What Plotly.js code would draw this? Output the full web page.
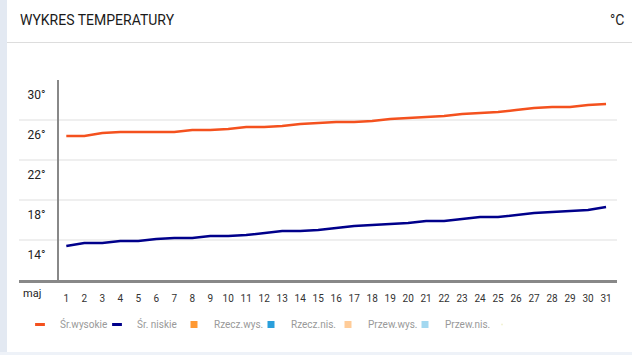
<!DOCTYPE html>
<html>
<head>
<meta charset="utf-8">
<script src="https://cdn.plot.ly/plotly-3.0.1.min.js"></script>
<style>
  html, body { margin: 0; padding: 0; background: #fff; }
  #wrap { position: relative; width: 632px; height: 355px; overflow: hidden; }
  #chart { position: absolute; left: 0; top: 0; width: 632px; height: 355px; }
  .strip-left { position: absolute; left: 0; top: 0; width: 7px; height: 355px; background: #e3e9f2; }
  .strip-bottom { position: absolute; left: 0; top: 352px; width: 632px; height: 3px; background: #eef2f8; }
  .sep { position: absolute; left: 7px; top: 42px; width: 625px; height: 1px; background: #dddddd; }
</style>
</head>
<body>
<div id="wrap">
  <div id="chart"></div>
  <div class="sep"></div>
  <div class="strip-left"></div>
  <div class="strip-bottom"></div>
</div>
<script>
// ---- data ----
const days = [1,2,3,4,5,6,7,8,9,10,11,12,13,14,15,16,17,18,19,20,21,22,23,24,25,26,27,28,29,30,31];
const avgHigh = [24.4,24.4,24.7,24.8,24.8,24.8,24.8,25.0,25.0,25.1,25.3,25.3,25.4,25.6,25.7,25.8,25.8,25.9,26.1,26.2,26.3,26.4,26.6,26.7,26.8,27.0,27.2,27.3,27.3,27.5,27.6];
const avgLow = [13.4,13.7,13.7,13.9,13.9,14.1,14.2,14.2,14.4,14.4,14.5,14.7,14.9,14.9,15.0,15.2,15.4,15.5,15.6,15.7,15.9,15.9,16.1,16.3,16.3,16.5,16.7,16.8,16.9,17.0,17.3];
const yTicks = [14,18,22,26,30];
const yTickText = ["14°","18°","22°","26°","30°"];
const monthLabel = "maj";
const legendNames = ["Śr.wysokie","Śr. niskie","Rzecz.wys.","Rzecz.nis.","Przew.wys.","Przew.nis."];
const legendColors = ["#f4511e","#00008b","#ff9933","#2a9fdb","#ffcc99","#a3d8f0"];

const FONT = 'Roboto, "Noto Sans", sans-serif';

const traces = [
  { x: days, y: avgHigh, type: 'scatter', mode: 'lines', line: { color: legendColors[0], width: 2.5 }, showlegend: false, hoverinfo: 'skip' },
  { x: days, y: avgLow, type: 'scatter', mode: 'lines', line: { color: legendColors[1], width: 2.5 }, showlegend: false, hoverinfo: 'skip' }
];
// legend-only entries
legendNames.forEach((n, i) => {
  const isLine = i < 2;
  traces.push({
    x: [null], y: [null], type: 'scatter', mode: 'markers', name: n,
    marker: isLine
      ? { symbol: 'line-ew-open', size: 7, color: legendColors[i], line: { color: legendColors[i], width: 3 } }
      : { symbol: 'square', size: 7, color: legendColors[i], line: { width: 0 } }
  });
});
// invisible spacer entry so the last legend label is not clipped
traces.push({ x: [null], y: [null], type: 'scatter', mode: 'markers', name: ' ', marker: { opacity: 0, size: 1 } });

const layout = {
  width: 632, height: 355,
  margin: { l: 19, r: 15, t: 80, b: 75 },
  paper_bgcolor: '#ffffff', plot_bgcolor: '#ffffff',
  font: { family: FONT, color: '#222' },
  title: { text: 'WYKRES TEMPERATURY', x: 20/632, xanchor: 'left', xref: 'container', y: 1 - 20/355, yanchor: 'middle', yref: 'container', font: { family: FONT, size: 14, color: '#1a1a1a' } },
  xaxis: {
    range: [-1.63, 31.61], tickmode: 'array', tickvals: days, ticktext: days.map(String),
    showgrid: false, zeroline: false, showline: true, linecolor: '#888', linewidth: 3,
    ticks: '', ticklabelstandoff: 7, tickfont: { family: FONT, size: 10, color: '#333' }, fixedrange: true
  },
  yaxis: {
    range: [10, 30], anchor: 'free', position: 39/598,
    tickmode: 'array', tickvals: yTicks, ticktext: yTickText,
    showgrid: true, gridcolor: '#efefef', gridwidth: 2, zeroline: false,
    showline: true, linecolor: '#888', linewidth: 2,
    ticks: '', ticklabelshift: 15, ticklabelstandoff: 9,
    tickfont: { family: FONT, size: 12, color: '#222' }, fixedrange: true
  },
  showlegend: true,
  legend: {
    orientation: 'h', x: 1/598, xanchor: 'left', y: -0.15, yanchor: 'top',
    entrywidth: 32, entrywidthmode: 'pixels', itemwidth: 30,
    font: { family: FONT, size: 10, color: '#999' }, bgcolor: 'rgba(0,0,0,0)'
  },
  annotations: [
    { text: monthLabel, xref: 'paper', yref: 'paper', x: (32-19)/598, y: (280-293)/200, xanchor: 'center', yanchor: 'middle', showarrow: false, font: { family: FONT, size: 11, color: '#222' } },
    { text: '°C', xref: 'paper', yref: 'paper', x: (626-19)/598, y: (280-20)/200, xanchor: 'right', yanchor: 'middle', showarrow: false, font: { family: FONT, size: 14, color: '#222' } }
  ]
};

Plotly.newPlot('chart', traces, layout, { displayModeBar: false, staticPlot: true });
</script>
</body>
</html>
